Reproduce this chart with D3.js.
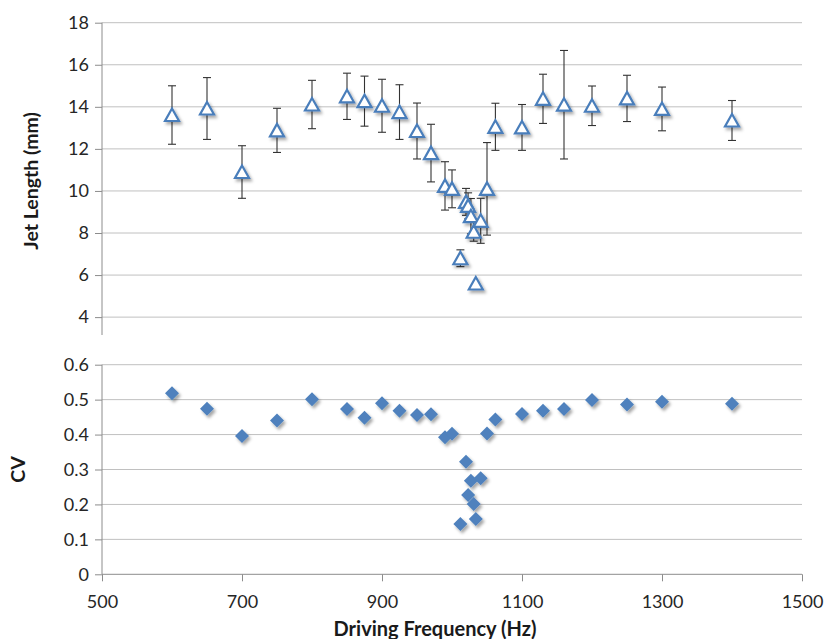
<!DOCTYPE html>
<html>
<head>
<meta charset="utf-8">
<script src="https://cdn.jsdelivr.net/npm/d3@7/dist/d3.min.js"></script>
<style>
  html, body { margin: 0; padding: 0; background: #fff; }
  svg { display: block; }
  .tick text { font-family: Lato, "Open Sans", sans-serif; font-size: 18px; fill: #262626; }
</style>
</head>
<body>
<svg id="chart" width="825" height="639"></svg>
<script>
// ---- data ----
const frequency = [600, 650, 700, 750, 800, 850, 875, 900, 925, 950, 970, 990, 1000, 1012, 1020, 1023, 1027, 1031, 1034, 1041, 1050, 1062, 1100, 1130, 1160, 1200, 1250, 1300, 1400];
const jetLength = [13.61, 13.92, 10.9, 12.88, 14.11, 14.5, 14.27, 14.05, 13.75, 12.85, 11.8, 10.24, 10.1, 6.8, 9.48, 9.29, 8.8, 8.06, 5.6, 8.58, 10.1, 13.05, 13.02, 14.38, 14.1, 14.05, 14.4, 13.9, 13.35];
const jetError = [1.39, 1.47, 1.25, 1.05, 1.15, 1.1, 1.19, 1.26, 1.3, 1.33, 1.37, 1.15, 0.9, 0.4, 0.64, 0.62, 0.84, 0.45, 0, 1.07, 2.2, 1.12, 1.09, 1.17, 2.58, 0.94, 1.1, 1.04, 0.95];
const cv = [0.518, 0.474, 0.396, 0.44, 0.501, 0.473, 0.448, 0.49, 0.468, 0.456, 0.458, 0.392, 0.402, 0.144, 0.322, 0.227, 0.268, 0.201, 0.158, 0.275, 0.403, 0.443, 0.459, 0.468, 0.473, 0.499, 0.486, 0.494, 0.488];
const jetTicks = [4, 6, 8, 10, 12, 14, 16, 18];
const cvTicks = [0, 0.1, 0.2, 0.3, 0.4, 0.5, 0.6];
const freqTicks = [500, 700, 900, 1100, 1300, 1500];
const jetTitle = "Jet Length (mm)";
const cvTitle = "CV";
const xTitle = "Driving Frequency (Hz)";

const svg = d3.select("#chart");
const FONT = 'Lato, "Open Sans", sans-serif';
const gridColor = "#c0c0c0";
const axisColor = "#8c8c8c";
const markerStroke = "#4a7ebb";
const markerFill = "#4f81bd";

const defs = svg.append("defs");
const flt = defs.append("filter").attr("id", "shadow").attr("x", "-50%").attr("y", "-50%").attr("width", "200%").attr("height", "200%");
flt.append("feDropShadow").attr("dx", 2).attr("dy", 2.5).attr("stdDeviation", 1.4).attr("flood-color", "#000").attr("flood-opacity", 0.35);

const x = d3.scaleLinear().domain([500, 1500]).range([102, 802]);
const yTop = d3.scaleLinear().domain([3.15, 18]).range([335, 22.7]);
const yBot = d3.scaleLinear().domain([0, 0.6]).range([574.3, 364.7]);

const data = frequency.map((fq, i) => ({ f: fq, jl: jetLength[i], err: jetError[i], cv: cv[i] }));

// ---- top panel ----
const gTop = svg.append("g");
gTop.append("g").selectAll("line").data(jetTicks).join("line")
  .attr("x1", x(500)).attr("x2", x(1500))
  .attr("y1", d => yTop(d)).attr("y2", d => yTop(d))
  .attr("stroke", gridColor).attr("stroke-width", 1);

const axTop = gTop.append("g").attr("transform", `translate(${x(500)},0)`)
  .call(d3.axisLeft(yTop).tickValues(jetTicks).tickSize(7).tickPadding(6).tickFormat(d3.format("d")));
axTop.select(".domain").remove();
axTop.selectAll(".tick line").attr("stroke", axisColor);
gTop.append("line").attr("x1", x(500)).attr("x2", x(500))
  .attr("y1", yTop(18)).attr("y2", yTop(3.15)).attr("stroke", axisColor);

// error bars
const eb = gTop.append("g").attr("stroke", "#333").attr("stroke-width", 1.1);
data.filter(d => d.err > 0).forEach(d => {
  const cx = x(d.f), y1 = yTop(d.jl + d.err), y2 = yTop(d.jl - d.err);
  eb.append("line").attr("x1", cx).attr("x2", cx).attr("y1", y1).attr("y2", y2);
  eb.append("line").attr("x1", cx - 4).attr("x2", cx + 4).attr("y1", y1).attr("y2", y1);
  eb.append("line").attr("x1", cx - 4).attr("x2", cx + 4).attr("y1", y2).attr("y2", y2);
});

const triPath = "M0,-6.5L7,6L-7,6Z";
gTop.append("g").attr("filter", "url(#shadow)").selectAll("path").data(data).join("path")
  .attr("d", triPath)
  .attr("transform", d => `translate(${x(d.f)},${yTop(d.jl)})`)
  .attr("fill", "#fff").attr("stroke", markerStroke).attr("stroke-width", 2.2)
  .attr("stroke-linejoin", "miter");

gTop.append("text").attr("transform", `translate(38,${(yTop(18) + yTop(3.15)) / 2 + 2}) rotate(-90)`)
  .attr("text-anchor", "middle").attr("font-family", FONT).attr("font-weight", "bold")
  .attr("font-size", 19.5).attr("fill", "#1a1a1a").text(jetTitle);

// ---- bottom panel ----
const gBot = svg.append("g");
gBot.append("g").selectAll("line").data(cvTicks.filter(d => d > 0)).join("line")
  .attr("x1", x(500)).attr("x2", x(1500))
  .attr("y1", d => yBot(d)).attr("y2", d => yBot(d))
  .attr("stroke", gridColor).attr("stroke-width", 1);

const axBotY = gBot.append("g").attr("transform", `translate(${x(500)},0)`)
  .call(d3.axisLeft(yBot).tickValues(cvTicks).tickSize(7).tickPadding(6).tickFormat(d => d === 0 ? "0" : d3.format(".1f")(d)));
axBotY.select(".domain").attr("stroke", axisColor).attr("d", `M0,${yBot(0.6)}V${yBot(0)}`);
axBotY.selectAll(".tick line").attr("stroke", axisColor);

const axX = gBot.append("g").attr("transform", `translate(0,${yBot(0)})`)
  .call(d3.axisBottom(x).tickValues(freqTicks).tickSize(7).tickPadding(14).tickFormat(d3.format("d")));
axX.select(".domain").attr("stroke", axisColor).attr("d", `M${x(500)},0H${x(1500)}`);
axX.selectAll(".tick line").attr("stroke", axisColor);

const diaPath = "M0,-7L7,0L0,7L-7,0Z";
gBot.append("g").attr("filter", "url(#shadow)").selectAll("path").data(data).join("path")
  .attr("d", diaPath)
  .attr("transform", d => `translate(${x(d.f)},${yBot(d.cv)})`)
  .attr("fill", markerFill);

gBot.append("text").attr("transform", `translate(25,${(yBot(0) + yBot(0.6)) / 2}) rotate(-90)`)
  .attr("text-anchor", "middle").attr("font-family", FONT).attr("font-weight", "bold")
  .attr("font-size", 19.5).attr("fill", "#1a1a1a").text(cvTitle);

svg.append("text").attr("x", 435).attr("y", 636)
  .attr("text-anchor", "middle").attr("font-family", FONT).attr("font-weight", "bold")
  .attr("font-size", 20).attr("fill", "#1a1a1a").text(xTitle);
</script>
</body>
</html>
